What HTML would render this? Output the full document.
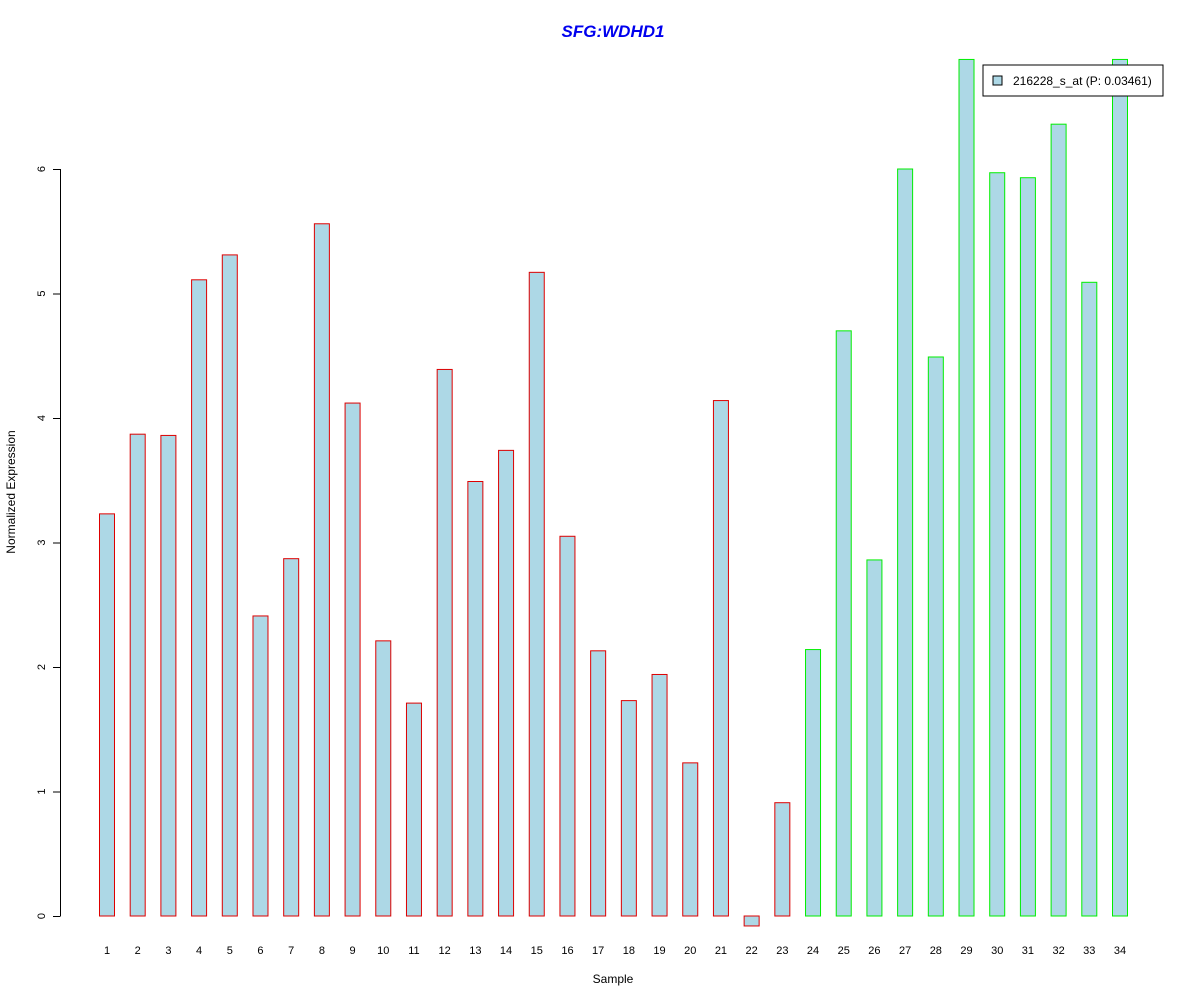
<!DOCTYPE html>
<html><head><meta charset="utf-8"><style>
body{margin:0;background:#fff}
svg text{font-family:"Liberation Sans",sans-serif}
</style></head><body>
<svg id="chart" width="1200" height="1000" xmlns="http://www.w3.org/2000/svg">
<text x="613" y="37" text-anchor="middle" font-size="17" font-weight="bold" font-style="italic" fill="#0000ee">SFG:WDHD1</text>
<g id="bars"></g>
<g id="yaxis"></g>
<g id="xaxis"></g>
<text x="0" y="0" transform="translate(15,492) rotate(-90)" text-anchor="middle" font-size="12">Normalized Expression</text>
<text x="613" y="983" text-anchor="middle" font-size="12">Sample</text>
<g>
<rect x="983" y="65" width="180" height="31" fill="#fff" stroke="#000"/>
<rect x="993" y="76" width="9" height="9" fill="#add8e6" stroke="#000"/>
<text x="1013" y="85" font-size="12">216228_s_at (P: 0.03461)</text>
</g>
</svg>
<script>
const samples = [1,2,3,4,5,6,7,8,9,10,11,12,13,14,15,16,17,18,19,20,21,22,23,24,25,26,27,28,29,30,31,32,33,34];
const values = [3.23,3.87,3.86,5.11,5.31,2.41,2.87,5.56,4.12,2.21,1.71,4.39,3.49,3.74,5.17,3.05,2.13,1.73,1.94,1.23,4.14,-0.08,0.91,2.14,4.70,2.86,6.0,4.49,6.88,5.97,5.93,6.36,5.09,6.88];
const groups = ["a","a","a","a","a","a","a","a","a","a","a","a","a","a","a","a","a","a","a","a","a","a","a","b","b","b","b","b","b","b","b","b","b","b"];
const yTicks = [0,1,2,3,4,5,6];
const NS="http://www.w3.org/2000/svg";
function y(v){return 916 - v*124.5;}
function x(i){return 107 + i*(1120-107)/33;}
const bars=document.getElementById('bars');
values.forEach((v,i)=>{
 const r=document.createElementNS(NS,'rect');
 
 
 r.setAttribute('x',x(i)-7.5);
 r.setAttribute('width',15);
 r.setAttribute('y',Math.min(y(v),y(0)));
 r.setAttribute('height',Math.abs(y(v)-y(0)));
 r.setAttribute('fill','#add8e6');
 r.setAttribute('stroke',groups[i]==='a'?'#dd0000':'#00ee00');
 bars.appendChild(r);
 const t=document.createElementNS(NS,'text');
 
 
 t.setAttribute('x',x(i));t.setAttribute('y',954);
 t.setAttribute('text-anchor','middle');t.setAttribute('font-size','11');
 t.textContent=samples[i];
 document.getElementById('xaxis').appendChild(t);
});
const ya=document.getElementById('yaxis');
const l=document.createElementNS(NS,'line');


l.setAttribute('x1',60.5);l.setAttribute('x2',60.5);l.setAttribute('y1',y(0));l.setAttribute('y2',y(6));l.setAttribute('stroke','#000');
ya.appendChild(l);
yTicks.forEach(v=>{
 const tk=document.createElementNS(NS,'line');
 
 
 tk.setAttribute('x1',53);tk.setAttribute('x2',60.5);tk.setAttribute('y1',y(v)+0.5);tk.setAttribute('y2',y(v)+0.5);tk.setAttribute('stroke','#000');
 ya.appendChild(tk);
 const t=document.createElementNS(NS,'text');
 
 
 t.setAttribute('transform','translate(45,'+y(v)+') rotate(-90)');
 t.setAttribute('text-anchor','middle');t.setAttribute('font-size','11');
 t.textContent=v;
 ya.appendChild(t);
});
</script>
</body></html>
